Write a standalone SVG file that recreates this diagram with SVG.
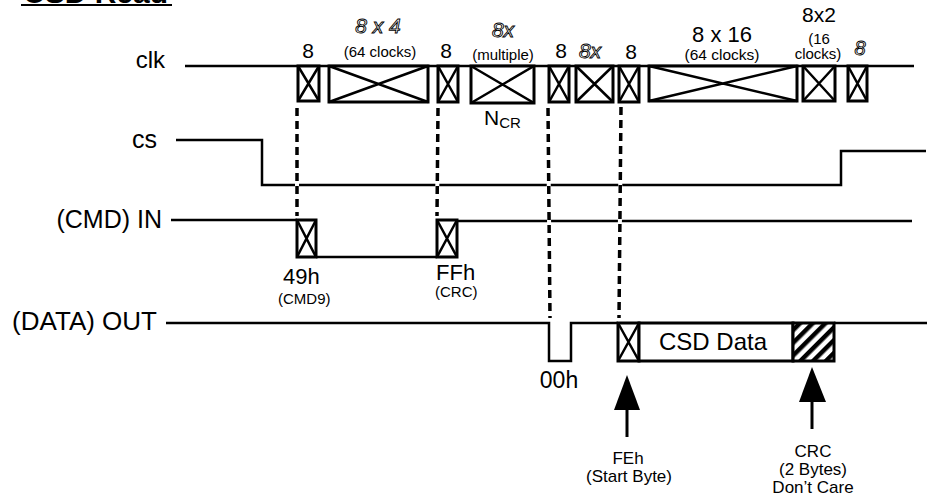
<svg xmlns="http://www.w3.org/2000/svg" width="930" height="504" viewBox="0 0 930 504">
<style>
text{font-family:"Liberation Sans",Arial,sans-serif;fill:#000}
.sig{fill:none;stroke:#000;stroke-width:2.5}
.box{fill:#fff;stroke:#000;stroke-width:3}
.x{stroke:#000;stroke-width:2.5;fill:none}
.lbl{font-size:25px;text-anchor:end}
.n{font-size:21px;text-anchor:middle}
.s{font-size:15px;text-anchor:middle}
.o{font-size:21px;font-style:italic;fill:#fff;stroke:#000;stroke-width:0.9;text-anchor:middle}
.dash{fill:none;stroke:#000;stroke-width:3.5;stroke-dasharray:8 5}
.under{fill:none;stroke:#fff;stroke-width:4}
</style>
<defs>
<pattern id="hatch" patternUnits="userSpaceOnUse" width="9" height="9" patternTransform="rotate(45)">
<rect width="9" height="9" fill="#fff"/>
<rect width="4.5" height="9" fill="#000"/>
</pattern>
</defs>
<rect width="930" height="504" fill="#fff"/>

<g id="title">
<text x="23" y="3" style="font-size:30px;font-weight:bold">CSD Read</text>
<line x1="21" y1="5" x2="172" y2="5" stroke="#000" stroke-width="2"/>
</g>

<g id="clk">
<text class="lbl" x="165" y="68" style="font-size:24px">clk</text>
<line class="sig" x1="185" y1="66" x2="914" y2="66"/>
<rect class="box" x="298" y="66" width="21" height="35"/><path class="x" d="M298 66L319 101M319 66L298 101"/>
<rect class="box" x="329" y="66" width="99" height="36"/><path class="x" d="M329 66L428 102M428 66L329 102"/>
<rect class="box" x="438" y="66" width="20" height="36"/><path class="x" d="M438 66L458 102M458 66L438 102"/>
<rect class="box" x="471" y="66" width="63" height="37"/><path class="x" d="M471 66L534 103M534 66L471 103"/>
<rect class="box" x="549" y="66" width="20" height="36"/><path class="x" d="M549 66L569 102M569 66L549 102"/>
<rect class="box" x="576" y="66" width="37" height="36"/><path class="x" d="M576 66L613 102M613 66L576 102"/>
<rect class="box" x="619" y="66" width="20" height="36"/><path class="x" d="M619 66L639 102M639 66L619 102"/>
<rect class="box" x="649" y="66" width="148" height="35"/><path class="x" d="M649 66L797 101M797 66L649 101"/>
<rect class="box" x="803" y="66" width="32" height="35"/><path class="x" d="M803 66L835 101M835 66L803 101"/>
<rect class="box" x="848" y="66" width="19" height="35"/><path class="x" d="M848 66L867 101M867 66L848 101"/>
<text class="n" x="308" y="58">8</text>
<text class="o" x="378" y="33">8 x 4</text>
<text class="s" x="380" y="57">(64 clocks)</text>
<text class="n" x="446" y="58">8</text>
<text class="o" x="503" y="37">8x</text>
<text class="s" x="503" y="60">(multiple)</text>
<text x="484" y="125" style="font-size:21px">N<tspan style="font-size:15px" dy="3">CR</tspan></text>
<text class="n" x="561" y="58">8</text>
<text class="o" x="590" y="58">8x</text>
<text class="n" x="631" y="59">8</text>
<text class="n" x="722" y="42" style="font-size:22px">8 x 16</text>
<text class="s" x="722" y="60" style="font-size:15.5px">(64 clocks)</text>
<text class="n" x="819" y="22" style="font-size:21px">8x2</text>
<text class="s" x="819" y="44">(16</text>
<text class="s" x="818" y="59">clocks)</text>
<text class="o" x="860" y="55" style="font-size:20px">8</text>
</g>

<g id="cs">
<text class="lbl" x="157" y="148">cs</text>
<polyline class="sig" points="176,140 262,140 262,185 841,185 841,151 926,151"/>
</g>

<g id="cmd-in">
<text class="lbl" x="162" y="228">(CMD) IN</text>
<polyline class="sig" points="171,220 297,220"/>
<polyline class="sig" points="316,257 437,257"/>
<polyline class="sig" points="457,221 912,221"/>
<rect class="box" x="297" y="220" width="19" height="37"/><path class="x" d="M297 220L316 257M316 220L297 257"/>
<rect class="box" x="437" y="220" width="20" height="37"/><path class="x" d="M437 220L457 257M457 220L437 257"/>
<text x="283" y="284" style="font-size:22px">49h</text>
<text x="278" y="304" style="font-size:15px">(CMD9)</text>
<text x="436" y="280" style="font-size:22px">FFh</text>
<text x="435" y="297" style="font-size:15px">(CRC)</text>
</g>

<g id="data-out">
<text class="lbl" x="157" y="330" style="font-size:26px">(DATA) OUT</text>
<polyline class="sig" points="166,323 549,323 549,361 571,361 571,323 618,323"/>
<line class="sig" x1="834" y1="323" x2="927" y2="323"/>
<rect class="box" x="618" y="323" width="21" height="38"/><path class="x" d="M618 323L639 361M639 323L618 361"/>
<rect class="box" x="639" y="323" width="154" height="38"/>
<rect x="793" y="323" width="41" height="38" fill="url(#hatch)" stroke="#000" stroke-width="3"/>
<text x="713" y="350" style="font-size:24px;text-anchor:middle">CSD Data</text>
<text x="559" y="388" style="font-size:23px;text-anchor:middle">00h</text>
</g>

<g id="connectors">
<line class="under" x1="297" y1="108" x2="297" y2="216"/>
<line class="dash" x1="297" y1="108" x2="297" y2="216"/>
<line class="under" x1="438" y1="108" x2="437" y2="216"/>
<line class="dash" x1="438" y1="108" x2="437" y2="216"/>
<line class="under" x1="548" y1="108" x2="550" y2="318"/>
<line class="dash" x1="548" y1="108" x2="550" y2="318"/>
<line class="under" x1="621" y1="107" x2="619" y2="318"/>
<line class="dash" x1="621" y1="107" x2="619" y2="318"/>
<polygon points="627,375 614,410 640,410" fill="#000"/>
<line x1="627" y1="409" x2="627" y2="437" stroke="#000" stroke-width="3"/>
<polygon points="812,367 799,402 826,402" fill="#000"/>
<line x1="812" y1="401" x2="812" y2="429" stroke="#000" stroke-width="3"/>
</g>

<g id="fe-label">
<text x="628" y="464" style="font-size:17px;text-anchor:middle">FEh</text>
<text x="629" y="482" style="font-size:17px;text-anchor:middle">(Start Byte)</text>
</g>
<g id="crc-label">
<text x="813" y="457" style="font-size:17px;text-anchor:middle">CRC</text>
<text x="813" y="475" style="font-size:17px;text-anchor:middle">(2 Bytes)</text>
<text x="813" y="493" style="font-size:17px;text-anchor:middle">Don’t Care</text>
</g>
</svg>
